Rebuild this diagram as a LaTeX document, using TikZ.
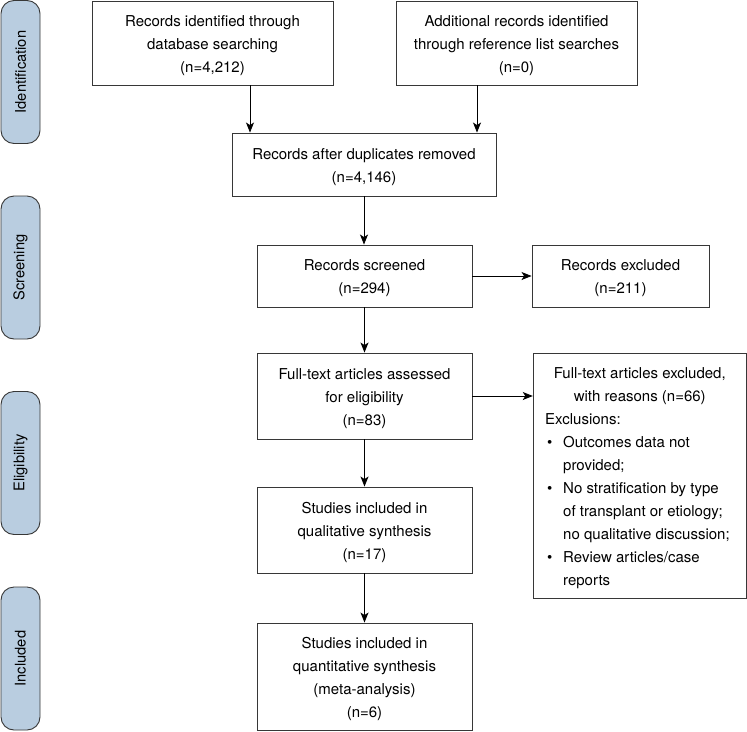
\documentclass[tikz,border=0pt]{standalone}
\usepackage{fontspec}
\setmainfont{TeX Gyre Heros}
\usetikzlibrary{arrows.meta}
\definecolor{pill}{RGB}{185,205,224}
\definecolor{edge}{RGB}{55,55,55}
\tikzset{
  box/.style={draw=edge, line width=0.9pt, fill=white, align=center, inner sep=0pt,
    font=\fontsize{15}{23}\selectfont},
  fxt/.style={inner sep=0pt, font=\fontsize{15}{23}\selectfont},
  phase/.style={draw=edge, line width=0.9pt, fill=pill, rounded corners=13pt, rotate=90,
    minimum width=143pt, minimum height=39pt, inner sep=0pt, font=\fontsize{14.7}{23}\selectfont},
  arr/.style={draw=black, line width=0.9pt, -{Stealth[length=10pt,width=8pt,inset=2.5pt]}}
}
\begin{document}
\begin{tikzpicture}[x=1pt,y=-1pt]
\useasboundingbox (0,0) rectangle (747,731);
% phase labels
\node[phase] (idp) at (20.5,72) {Identification};
\node[phase] (scp) at (20.5,267.5) {Screening};
\node[phase] (elp) at (20.5,463) {Eligibility};
\node[phase] (inp) at (20.5,658.5) {Included};
% boxes
\node[box, minimum width=241pt, minimum height=84pt] (b1) at (212.5,43) {\strut Records identified through\\ database searching\\ (n=4,212)};
\node[box, minimum width=241pt, minimum height=84pt] (b2) at (516.5,43) {\strut Additional records identified\\ through reference list searches\\ (n=0)};
\node[box, minimum width=264pt, minimum height=63pt] (b3) at (364,164.5) {\strut Records after duplicates removed\\ (n=4,146)};
\node[box, minimum width=215pt, minimum height=62pt] (b4) at (364.5,276) {\strut Records screened\\ (n=294)};
\node[box, minimum width=177pt, minimum height=62pt] (rex) at (620.5,276) {\strut Records excluded\\ (n=211)};
\node[box, minimum width=215pt, minimum height=86pt] (b5) at (364.5,396) {\strut Full-text articles assessed\\ for eligibility\\ (n=83)};
\node[box, minimum width=213pt, minimum height=245pt] (fex) at (639.75,475.5) {};
\node[box, minimum width=215pt, minimum height=86pt] (b6) at (364.5,530) {\strut Studies included in\\ qualitative synthesis\\ (n=17)};
\node[box, minimum width=215pt, minimum height=107pt] (b7) at (364.5,676.5) {\strut Studies included in\\ quantitative synthesis\\ (meta-analysis)\\ (n=6)};
% text of the exclusion box
\node[fxt, anchor=base] (fx1) at (639.75,378.5) {Full-text articles excluded,};
\node[fxt, anchor=base] (fx2) at (639.75,401.5) {with reasons (n=66)};
\node[fxt, anchor=base west] (fx3) at (545,424.5) {Exclusions:};
\node[fxt, anchor=base west] (bu1) at (547,447.5) {\textbullet};
\node[fxt, anchor=base west] (fx4) at (563,447.5) {Outcomes data not};
\node[fxt, anchor=base west] (fx5) at (563,470.5) {provided;};
\node[fxt, anchor=base west] (bu2) at (547,493.5) {\textbullet};
\node[fxt, anchor=base west] (fx6) at (563,493.5) {No stratification by type};
\node[fxt, anchor=base west] (fx7) at (563,516.5) {of transplant or etiology;};
\node[fxt, anchor=base west] (fx8) at (563,539.5) {no qualitative discussion;};
\node[fxt, anchor=base west] (bu3) at (547,562.5) {\textbullet};
\node[fxt, anchor=base west] (fx9) at (563,562.5) {Review articles/case};
\node[fxt, anchor=base west] (fx10) at (563,585.5) {reports};
% connectors
\draw[arr] ([xshift=37.5pt]b1.south) -- ([xshift=37.5pt]b1.south |- b3.north);
\draw[arr] ([xshift=-39.5pt]b2.south) -- ([xshift=-39.5pt]b2.south |- b3.north);
\draw[arr] (b3.south) -- (b3.south |- b4.north);
\draw[arr] (b4.east) -- (rex.west);
\draw[arr] (b4.south) -- (b5.north);
\draw[arr] (b5.east) -- (b5.east -| fex.west);
\draw[arr] (b5.south) -- (b6.north);
\draw[arr] (b6.south) -- (b7.north);
\end{tikzpicture}
\end{document}
